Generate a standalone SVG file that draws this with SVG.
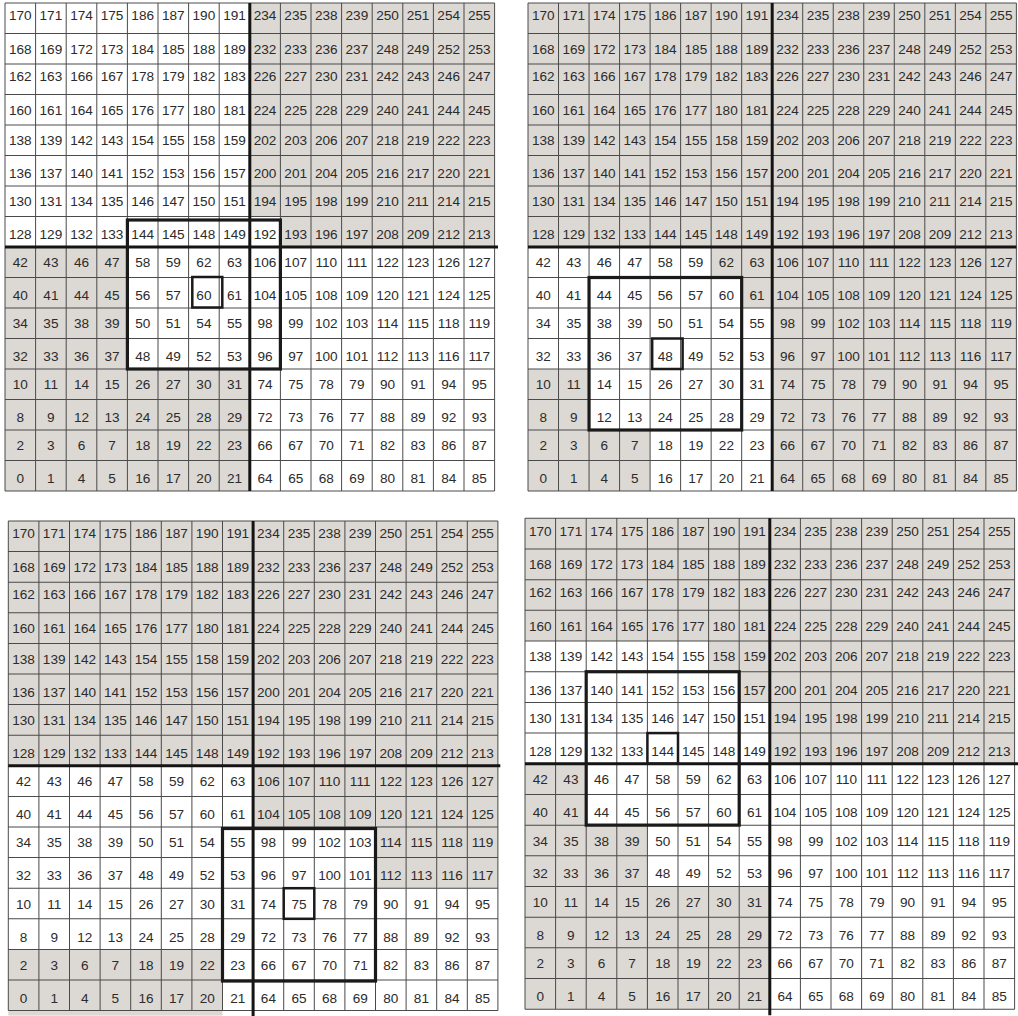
<svg xmlns="http://www.w3.org/2000/svg" xmlns:xlink="http://www.w3.org/1999/xlink" width="1018" height="1016" viewBox="0 0 1018 1016">
<style>
text{font-family:"Liberation Sans",Arial,sans-serif;font-size:13.6px;fill:#2b2b2b;text-anchor:middle}
.g{fill:#dcd8d3}
.w{fill:#ffffff}
.grid{fill:none;stroke:#4a4a4a;stroke-width:1}
.thick{fill:none;stroke:#141414;stroke-width:3}
.box{fill:none;stroke:#1a1a1a;stroke-width:3.2}
.sbox{fill:none;stroke:#1a1a1a;stroke-width:2.5}
</style>
<defs>
<path id="gridpath" class="grid" d="M0 0V488M30.6 0V488M61.2 0V488M91.8 0V488M122.4 0V488M153 0V488M183.6 0V488M214.2 0V488M244.8 0V488M275.4 0V488M306 0V488M336.6 0V488M367.2 0V488M397.8 0V488M428.4 0V488M459 0V488M489.6 0V488M0 0H489.6M0 30.5H489.6M0 61H489.6M0 91.5H489.6M0 122H489.6M0 152.5H489.6M0 183H489.6M0 213.5H489.6M0 244H489.6M0 274.5H489.6M0 305H489.6M0 335.5H489.6M0 366H489.6M0 396.5H489.6M0 427H489.6M0 457.5H489.6M0 488H489.6"/>
</defs>
<rect x="0" y="0" width="1018" height="1016" fill="#ffffff"/>

<g id="panel1" transform="translate(5,3)">
<g id="p1-shade">
<rect class="g" x="244.8" y="0" width="244.8" height="213.5"/>
<rect class="g" x="275.4" y="213.5" width="214.2" height="30.5"/>
<rect class="g" x="0" y="244" width="122.4" height="244"/>
<rect class="g" x="122.4" y="366" width="122.4" height="122"/>
</g>
<use xlink:href="#gridpath" href="#gridpath"/>
<g id="p1-nums">
<g transform="translate(0,17.3)"><text x="15.3">170</text><text x="45.9">171</text><text x="76.5">174</text><text x="107.1">175</text><text x="137.7">186</text><text x="168.3">187</text><text x="198.9">190</text><text x="229.5">191</text><text x="260.1">234</text><text x="290.7">235</text><text x="321.3">238</text><text x="351.9">239</text><text x="382.5">250</text><text x="413.1">251</text><text x="443.7">254</text><text x="474.3">255</text></g>
<g transform="translate(0,50.8)"><text x="15.3">168</text><text x="45.9">169</text><text x="76.5">172</text><text x="107.1">173</text><text x="137.7">184</text><text x="168.3">185</text><text x="198.9">188</text><text x="229.5">189</text><text x="260.1">232</text><text x="290.7">233</text><text x="321.3">236</text><text x="351.9">237</text><text x="382.5">248</text><text x="413.1">249</text><text x="443.7">252</text><text x="474.3">253</text></g>
<g transform="translate(0,77.8)"><text x="15.3">162</text><text x="45.9">163</text><text x="76.5">166</text><text x="107.1">167</text><text x="137.7">178</text><text x="168.3">179</text><text x="198.9">182</text><text x="229.5">183</text><text x="260.1">226</text><text x="290.7">227</text><text x="321.3">230</text><text x="351.9">231</text><text x="382.5">242</text><text x="413.1">243</text><text x="443.7">246</text><text x="474.3">247</text></g>
<g transform="translate(0,111.8)"><text x="15.3">160</text><text x="45.9">161</text><text x="76.5">164</text><text x="107.1">165</text><text x="137.7">176</text><text x="168.3">177</text><text x="198.9">180</text><text x="229.5">181</text><text x="260.1">224</text><text x="290.7">225</text><text x="321.3">228</text><text x="351.9">229</text><text x="382.5">240</text><text x="413.1">241</text><text x="443.7">244</text><text x="474.3">245</text></g>
<g transform="translate(0,142.3)"><text x="15.3">138</text><text x="45.9">139</text><text x="76.5">142</text><text x="107.1">143</text><text x="137.7">154</text><text x="168.3">155</text><text x="198.9">158</text><text x="229.5">159</text><text x="260.1">202</text><text x="290.7">203</text><text x="321.3">206</text><text x="351.9">207</text><text x="382.5">218</text><text x="413.1">219</text><text x="443.7">222</text><text x="474.3">223</text></g>
<g transform="translate(0,175.3)"><text x="15.3">136</text><text x="45.9">137</text><text x="76.5">140</text><text x="107.1">141</text><text x="137.7">152</text><text x="168.3">153</text><text x="198.9">156</text><text x="229.5">157</text><text x="260.1">200</text><text x="290.7">201</text><text x="321.3">204</text><text x="351.9">205</text><text x="382.5">216</text><text x="413.1">217</text><text x="443.7">220</text><text x="474.3">221</text></g>
<g transform="translate(0,203.3)"><text x="15.3">130</text><text x="45.9">131</text><text x="76.5">134</text><text x="107.1">135</text><text x="137.7">146</text><text x="168.3">147</text><text x="198.9">150</text><text x="229.5">151</text><text x="260.1">194</text><text x="290.7">195</text><text x="321.3">198</text><text x="351.9">199</text><text x="382.5">210</text><text x="413.1">211</text><text x="443.7">214</text><text x="474.3">215</text></g>
<g transform="translate(0,236.3)"><text x="15.3">128</text><text x="45.9">129</text><text x="76.5">132</text><text x="107.1">133</text><text x="137.7">144</text><text x="168.3">145</text><text x="198.9">148</text><text x="229.5">149</text><text x="260.1">192</text><text x="290.7">193</text><text x="321.3">196</text><text x="351.9">197</text><text x="382.5">208</text><text x="413.1">209</text><text x="443.7">212</text><text x="474.3">213</text></g>
<g transform="translate(0,264.3)"><text x="15.3">42</text><text x="45.9">43</text><text x="76.5">46</text><text x="107.1">47</text><text x="137.7">58</text><text x="168.3">59</text><text x="198.9">62</text><text x="229.5">63</text><text x="260.1">106</text><text x="290.7">107</text><text x="321.3">110</text><text x="351.9">111</text><text x="382.5">122</text><text x="413.1">123</text><text x="443.7">126</text><text x="474.3">127</text></g>
<g transform="translate(0,296.8)"><text x="15.3">40</text><text x="45.9">41</text><text x="76.5">44</text><text x="107.1">45</text><text x="137.7">56</text><text x="168.3">57</text><text x="198.9">60</text><text x="229.5">61</text><text x="260.1">104</text><text x="290.7">105</text><text x="321.3">108</text><text x="351.9">109</text><text x="382.5">120</text><text x="413.1">121</text><text x="443.7">124</text><text x="474.3">125</text></g>
<g transform="translate(0,325.3)"><text x="15.3">34</text><text x="45.9">35</text><text x="76.5">38</text><text x="107.1">39</text><text x="137.7">50</text><text x="168.3">51</text><text x="198.9">54</text><text x="229.5">55</text><text x="260.1">98</text><text x="290.7">99</text><text x="321.3">102</text><text x="351.9">103</text><text x="382.5">114</text><text x="413.1">115</text><text x="443.7">118</text><text x="474.3">119</text></g>
<g transform="translate(0,357.8)"><text x="15.3">32</text><text x="45.9">33</text><text x="76.5">36</text><text x="107.1">37</text><text x="137.7">48</text><text x="168.3">49</text><text x="198.9">52</text><text x="229.5">53</text><text x="260.1">96</text><text x="290.7">97</text><text x="321.3">100</text><text x="351.9">101</text><text x="382.5">112</text><text x="413.1">113</text><text x="443.7">116</text><text x="474.3">117</text></g>
<g transform="translate(0,386.3)"><text x="15.3">10</text><text x="45.9">11</text><text x="76.5">14</text><text x="107.1">15</text><text x="137.7">26</text><text x="168.3">27</text><text x="198.9">30</text><text x="229.5">31</text><text x="260.1">74</text><text x="290.7">75</text><text x="321.3">78</text><text x="351.9">79</text><text x="382.5">90</text><text x="413.1">91</text><text x="443.7">94</text><text x="474.3">95</text></g>
<g transform="translate(0,419.3)"><text x="15.3">8</text><text x="45.9">9</text><text x="76.5">12</text><text x="107.1">13</text><text x="137.7">24</text><text x="168.3">25</text><text x="198.9">28</text><text x="229.5">29</text><text x="260.1">72</text><text x="290.7">73</text><text x="321.3">76</text><text x="351.9">77</text><text x="382.5">88</text><text x="413.1">89</text><text x="443.7">92</text><text x="474.3">93</text></g>
<g transform="translate(0,447.3)"><text x="15.3">2</text><text x="45.9">3</text><text x="76.5">6</text><text x="107.1">7</text><text x="137.7">18</text><text x="168.3">19</text><text x="198.9">22</text><text x="229.5">23</text><text x="260.1">66</text><text x="290.7">67</text><text x="321.3">70</text><text x="351.9">71</text><text x="382.5">82</text><text x="413.1">83</text><text x="443.7">86</text><text x="474.3">87</text></g>
<g transform="translate(0,480)"><text x="15.3">0</text><text x="45.9">1</text><text x="76.5">4</text><text x="107.1">5</text><text x="137.7">16</text><text x="168.3">17</text><text x="198.9">20</text><text x="229.5">21</text><text x="260.1">64</text><text x="290.7">65</text><text x="321.3">68</text><text x="351.9">69</text><text x="382.5">80</text><text x="413.1">81</text><text x="443.7">84</text><text x="474.3">85</text></g>
</g>
<path class="thick" d="M244.8 0V488M0 244H493"/>
<rect class="box" x="122.4" y="217" width="153" height="149"/>
<rect class="sbox" x="187.3" y="274" width="30" height="30.5"/>
</g>

<g id="panel2" transform="translate(528,3) scale(0.9975,1)">
<g id="p2-shade">
<rect class="g" x="0" y="0" width="489.6" height="488"/>
<rect class="w" x="0" y="244" width="183.6" height="30.5"/>
<rect class="w" x="0" y="274.5" width="214.2" height="30.5"/>
<rect class="w" x="0" y="305" width="244.8" height="61"/>
<rect class="w" x="61.2" y="366" width="183.6" height="61"/>
<rect class="w" x="122.4" y="427" width="122.4" height="61"/>
</g>
<use xlink:href="#gridpath" href="#gridpath"/>
<g id="p2-nums">
<g transform="translate(0,17.3)"><text x="15.3">170</text><text x="45.9">171</text><text x="76.5">174</text><text x="107.1">175</text><text x="137.7">186</text><text x="168.3">187</text><text x="198.9">190</text><text x="229.5">191</text><text x="260.1">234</text><text x="290.7">235</text><text x="321.3">238</text><text x="351.9">239</text><text x="382.5">250</text><text x="413.1">251</text><text x="443.7">254</text><text x="474.3">255</text></g>
<g transform="translate(0,50.8)"><text x="15.3">168</text><text x="45.9">169</text><text x="76.5">172</text><text x="107.1">173</text><text x="137.7">184</text><text x="168.3">185</text><text x="198.9">188</text><text x="229.5">189</text><text x="260.1">232</text><text x="290.7">233</text><text x="321.3">236</text><text x="351.9">237</text><text x="382.5">248</text><text x="413.1">249</text><text x="443.7">252</text><text x="474.3">253</text></g>
<g transform="translate(0,77.8)"><text x="15.3">162</text><text x="45.9">163</text><text x="76.5">166</text><text x="107.1">167</text><text x="137.7">178</text><text x="168.3">179</text><text x="198.9">182</text><text x="229.5">183</text><text x="260.1">226</text><text x="290.7">227</text><text x="321.3">230</text><text x="351.9">231</text><text x="382.5">242</text><text x="413.1">243</text><text x="443.7">246</text><text x="474.3">247</text></g>
<g transform="translate(0,111.8)"><text x="15.3">160</text><text x="45.9">161</text><text x="76.5">164</text><text x="107.1">165</text><text x="137.7">176</text><text x="168.3">177</text><text x="198.9">180</text><text x="229.5">181</text><text x="260.1">224</text><text x="290.7">225</text><text x="321.3">228</text><text x="351.9">229</text><text x="382.5">240</text><text x="413.1">241</text><text x="443.7">244</text><text x="474.3">245</text></g>
<g transform="translate(0,142.3)"><text x="15.3">138</text><text x="45.9">139</text><text x="76.5">142</text><text x="107.1">143</text><text x="137.7">154</text><text x="168.3">155</text><text x="198.9">158</text><text x="229.5">159</text><text x="260.1">202</text><text x="290.7">203</text><text x="321.3">206</text><text x="351.9">207</text><text x="382.5">218</text><text x="413.1">219</text><text x="443.7">222</text><text x="474.3">223</text></g>
<g transform="translate(0,175.3)"><text x="15.3">136</text><text x="45.9">137</text><text x="76.5">140</text><text x="107.1">141</text><text x="137.7">152</text><text x="168.3">153</text><text x="198.9">156</text><text x="229.5">157</text><text x="260.1">200</text><text x="290.7">201</text><text x="321.3">204</text><text x="351.9">205</text><text x="382.5">216</text><text x="413.1">217</text><text x="443.7">220</text><text x="474.3">221</text></g>
<g transform="translate(0,203.3)"><text x="15.3">130</text><text x="45.9">131</text><text x="76.5">134</text><text x="107.1">135</text><text x="137.7">146</text><text x="168.3">147</text><text x="198.9">150</text><text x="229.5">151</text><text x="260.1">194</text><text x="290.7">195</text><text x="321.3">198</text><text x="351.9">199</text><text x="382.5">210</text><text x="413.1">211</text><text x="443.7">214</text><text x="474.3">215</text></g>
<g transform="translate(0,236.3)"><text x="15.3">128</text><text x="45.9">129</text><text x="76.5">132</text><text x="107.1">133</text><text x="137.7">144</text><text x="168.3">145</text><text x="198.9">148</text><text x="229.5">149</text><text x="260.1">192</text><text x="290.7">193</text><text x="321.3">196</text><text x="351.9">197</text><text x="382.5">208</text><text x="413.1">209</text><text x="443.7">212</text><text x="474.3">213</text></g>
<g transform="translate(0,264.3)"><text x="15.3">42</text><text x="45.9">43</text><text x="76.5">46</text><text x="107.1">47</text><text x="137.7">58</text><text x="168.3">59</text><text x="198.9">62</text><text x="229.5">63</text><text x="260.1">106</text><text x="290.7">107</text><text x="321.3">110</text><text x="351.9">111</text><text x="382.5">122</text><text x="413.1">123</text><text x="443.7">126</text><text x="474.3">127</text></g>
<g transform="translate(0,296.8)"><text x="15.3">40</text><text x="45.9">41</text><text x="76.5">44</text><text x="107.1">45</text><text x="137.7">56</text><text x="168.3">57</text><text x="198.9">60</text><text x="229.5">61</text><text x="260.1">104</text><text x="290.7">105</text><text x="321.3">108</text><text x="351.9">109</text><text x="382.5">120</text><text x="413.1">121</text><text x="443.7">124</text><text x="474.3">125</text></g>
<g transform="translate(0,325.3)"><text x="15.3">34</text><text x="45.9">35</text><text x="76.5">38</text><text x="107.1">39</text><text x="137.7">50</text><text x="168.3">51</text><text x="198.9">54</text><text x="229.5">55</text><text x="260.1">98</text><text x="290.7">99</text><text x="321.3">102</text><text x="351.9">103</text><text x="382.5">114</text><text x="413.1">115</text><text x="443.7">118</text><text x="474.3">119</text></g>
<g transform="translate(0,357.8)"><text x="15.3">32</text><text x="45.9">33</text><text x="76.5">36</text><text x="107.1">37</text><text x="137.7">48</text><text x="168.3">49</text><text x="198.9">52</text><text x="229.5">53</text><text x="260.1">96</text><text x="290.7">97</text><text x="321.3">100</text><text x="351.9">101</text><text x="382.5">112</text><text x="413.1">113</text><text x="443.7">116</text><text x="474.3">117</text></g>
<g transform="translate(0,386.3)"><text x="15.3">10</text><text x="45.9">11</text><text x="76.5">14</text><text x="107.1">15</text><text x="137.7">26</text><text x="168.3">27</text><text x="198.9">30</text><text x="229.5">31</text><text x="260.1">74</text><text x="290.7">75</text><text x="321.3">78</text><text x="351.9">79</text><text x="382.5">90</text><text x="413.1">91</text><text x="443.7">94</text><text x="474.3">95</text></g>
<g transform="translate(0,419.3)"><text x="15.3">8</text><text x="45.9">9</text><text x="76.5">12</text><text x="107.1">13</text><text x="137.7">24</text><text x="168.3">25</text><text x="198.9">28</text><text x="229.5">29</text><text x="260.1">72</text><text x="290.7">73</text><text x="321.3">76</text><text x="351.9">77</text><text x="382.5">88</text><text x="413.1">89</text><text x="443.7">92</text><text x="474.3">93</text></g>
<g transform="translate(0,447.3)"><text x="15.3">2</text><text x="45.9">3</text><text x="76.5">6</text><text x="107.1">7</text><text x="137.7">18</text><text x="168.3">19</text><text x="198.9">22</text><text x="229.5">23</text><text x="260.1">66</text><text x="290.7">67</text><text x="321.3">70</text><text x="351.9">71</text><text x="382.5">82</text><text x="413.1">83</text><text x="443.7">86</text><text x="474.3">87</text></g>
<g transform="translate(0,480)"><text x="15.3">0</text><text x="45.9">1</text><text x="76.5">4</text><text x="107.1">5</text><text x="137.7">16</text><text x="168.3">17</text><text x="198.9">20</text><text x="229.5">21</text><text x="260.1">64</text><text x="290.7">65</text><text x="321.3">68</text><text x="351.9">69</text><text x="382.5">80</text><text x="413.1">81</text><text x="443.7">84</text><text x="474.3">85</text></g>
</g>
<path class="thick" d="M244.8 0V488M0 244H489.6"/>
<rect class="box" x="61.2" y="274.5" width="153" height="152.5"/>
<rect class="sbox" x="124.5" y="335.5" width="30.5" height="30.5"/>
</g>

<g id="panel3" transform="translate(8.3,521) scale(1,1.0033)">
<g id="p3-shade">
<rect class="g" x="0" y="0" width="489.6" height="244"/>
<rect class="g" x="244.8" y="244" width="244.8" height="61"/>
<rect class="g" x="367.2" y="305" width="122.4" height="61"/>
<rect class="g" x="0" y="427" width="214.2" height="66"/>
</g>
<use xlink:href="#gridpath" href="#gridpath"/>
<g id="p3-nums">
<g transform="translate(0,17.3)"><text x="15.3">170</text><text x="45.9">171</text><text x="76.5">174</text><text x="107.1">175</text><text x="137.7">186</text><text x="168.3">187</text><text x="198.9">190</text><text x="229.5">191</text><text x="260.1">234</text><text x="290.7">235</text><text x="321.3">238</text><text x="351.9">239</text><text x="382.5">250</text><text x="413.1">251</text><text x="443.7">254</text><text x="474.3">255</text></g>
<g transform="translate(0,50.8)"><text x="15.3">168</text><text x="45.9">169</text><text x="76.5">172</text><text x="107.1">173</text><text x="137.7">184</text><text x="168.3">185</text><text x="198.9">188</text><text x="229.5">189</text><text x="260.1">232</text><text x="290.7">233</text><text x="321.3">236</text><text x="351.9">237</text><text x="382.5">248</text><text x="413.1">249</text><text x="443.7">252</text><text x="474.3">253</text></g>
<g transform="translate(0,77.8)"><text x="15.3">162</text><text x="45.9">163</text><text x="76.5">166</text><text x="107.1">167</text><text x="137.7">178</text><text x="168.3">179</text><text x="198.9">182</text><text x="229.5">183</text><text x="260.1">226</text><text x="290.7">227</text><text x="321.3">230</text><text x="351.9">231</text><text x="382.5">242</text><text x="413.1">243</text><text x="443.7">246</text><text x="474.3">247</text></g>
<g transform="translate(0,111.8)"><text x="15.3">160</text><text x="45.9">161</text><text x="76.5">164</text><text x="107.1">165</text><text x="137.7">176</text><text x="168.3">177</text><text x="198.9">180</text><text x="229.5">181</text><text x="260.1">224</text><text x="290.7">225</text><text x="321.3">228</text><text x="351.9">229</text><text x="382.5">240</text><text x="413.1">241</text><text x="443.7">244</text><text x="474.3">245</text></g>
<g transform="translate(0,142.3)"><text x="15.3">138</text><text x="45.9">139</text><text x="76.5">142</text><text x="107.1">143</text><text x="137.7">154</text><text x="168.3">155</text><text x="198.9">158</text><text x="229.5">159</text><text x="260.1">202</text><text x="290.7">203</text><text x="321.3">206</text><text x="351.9">207</text><text x="382.5">218</text><text x="413.1">219</text><text x="443.7">222</text><text x="474.3">223</text></g>
<g transform="translate(0,175.3)"><text x="15.3">136</text><text x="45.9">137</text><text x="76.5">140</text><text x="107.1">141</text><text x="137.7">152</text><text x="168.3">153</text><text x="198.9">156</text><text x="229.5">157</text><text x="260.1">200</text><text x="290.7">201</text><text x="321.3">204</text><text x="351.9">205</text><text x="382.5">216</text><text x="413.1">217</text><text x="443.7">220</text><text x="474.3">221</text></g>
<g transform="translate(0,203.3)"><text x="15.3">130</text><text x="45.9">131</text><text x="76.5">134</text><text x="107.1">135</text><text x="137.7">146</text><text x="168.3">147</text><text x="198.9">150</text><text x="229.5">151</text><text x="260.1">194</text><text x="290.7">195</text><text x="321.3">198</text><text x="351.9">199</text><text x="382.5">210</text><text x="413.1">211</text><text x="443.7">214</text><text x="474.3">215</text></g>
<g transform="translate(0,236.3)"><text x="15.3">128</text><text x="45.9">129</text><text x="76.5">132</text><text x="107.1">133</text><text x="137.7">144</text><text x="168.3">145</text><text x="198.9">148</text><text x="229.5">149</text><text x="260.1">192</text><text x="290.7">193</text><text x="321.3">196</text><text x="351.9">197</text><text x="382.5">208</text><text x="413.1">209</text><text x="443.7">212</text><text x="474.3">213</text></g>
<g transform="translate(0,264.3)"><text x="15.3">42</text><text x="45.9">43</text><text x="76.5">46</text><text x="107.1">47</text><text x="137.7">58</text><text x="168.3">59</text><text x="198.9">62</text><text x="229.5">63</text><text x="260.1">106</text><text x="290.7">107</text><text x="321.3">110</text><text x="351.9">111</text><text x="382.5">122</text><text x="413.1">123</text><text x="443.7">126</text><text x="474.3">127</text></g>
<g transform="translate(0,296.8)"><text x="15.3">40</text><text x="45.9">41</text><text x="76.5">44</text><text x="107.1">45</text><text x="137.7">56</text><text x="168.3">57</text><text x="198.9">60</text><text x="229.5">61</text><text x="260.1">104</text><text x="290.7">105</text><text x="321.3">108</text><text x="351.9">109</text><text x="382.5">120</text><text x="413.1">121</text><text x="443.7">124</text><text x="474.3">125</text></g>
<g transform="translate(0,325.3)"><text x="15.3">34</text><text x="45.9">35</text><text x="76.5">38</text><text x="107.1">39</text><text x="137.7">50</text><text x="168.3">51</text><text x="198.9">54</text><text x="229.5">55</text><text x="260.1">98</text><text x="290.7">99</text><text x="321.3">102</text><text x="351.9">103</text><text x="382.5">114</text><text x="413.1">115</text><text x="443.7">118</text><text x="474.3">119</text></g>
<g transform="translate(0,357.8)"><text x="15.3">32</text><text x="45.9">33</text><text x="76.5">36</text><text x="107.1">37</text><text x="137.7">48</text><text x="168.3">49</text><text x="198.9">52</text><text x="229.5">53</text><text x="260.1">96</text><text x="290.7">97</text><text x="321.3">100</text><text x="351.9">101</text><text x="382.5">112</text><text x="413.1">113</text><text x="443.7">116</text><text x="474.3">117</text></g>
<g transform="translate(0,386.3)"><text x="15.3">10</text><text x="45.9">11</text><text x="76.5">14</text><text x="107.1">15</text><text x="137.7">26</text><text x="168.3">27</text><text x="198.9">30</text><text x="229.5">31</text><text x="260.1">74</text><text x="290.7">75</text><text x="321.3">78</text><text x="351.9">79</text><text x="382.5">90</text><text x="413.1">91</text><text x="443.7">94</text><text x="474.3">95</text></g>
<g transform="translate(0,419.3)"><text x="15.3">8</text><text x="45.9">9</text><text x="76.5">12</text><text x="107.1">13</text><text x="137.7">24</text><text x="168.3">25</text><text x="198.9">28</text><text x="229.5">29</text><text x="260.1">72</text><text x="290.7">73</text><text x="321.3">76</text><text x="351.9">77</text><text x="382.5">88</text><text x="413.1">89</text><text x="443.7">92</text><text x="474.3">93</text></g>
<g transform="translate(0,447.3)"><text x="15.3">2</text><text x="45.9">3</text><text x="76.5">6</text><text x="107.1">7</text><text x="137.7">18</text><text x="168.3">19</text><text x="198.9">22</text><text x="229.5">23</text><text x="260.1">66</text><text x="290.7">67</text><text x="321.3">70</text><text x="351.9">71</text><text x="382.5">82</text><text x="413.1">83</text><text x="443.7">86</text><text x="474.3">87</text></g>
<g transform="translate(0,480)"><text x="15.3">0</text><text x="45.9">1</text><text x="76.5">4</text><text x="107.1">5</text><text x="137.7">16</text><text x="168.3">17</text><text x="198.9">20</text><text x="229.5">21</text><text x="260.1">64</text><text x="290.7">65</text><text x="321.3">68</text><text x="351.9">69</text><text x="382.5">80</text><text x="413.1">81</text><text x="443.7">84</text><text x="474.3">85</text></g>
</g>
<path class="thick" d="M244.8 0V494M0 244H492"/>
<rect class="box" x="214.2" y="306.5" width="153" height="152"/>
<rect class="sbox" x="275.4" y="366" width="30.6" height="30.5"/>
</g>

<g id="panel4" transform="translate(525,518.3) scale(1,1.006)">
<g id="p4-shade">
<rect class="g" x="0" y="0" width="489.6" height="488"/>
<rect class="w" x="0" y="122" width="183.6" height="30.5"/>
<rect class="w" x="0" y="152.5" width="214.2" height="30.5"/>
<rect class="w" x="0" y="183" width="244.8" height="61"/>
<rect class="w" x="61.2" y="244" width="183.6" height="61"/>
<rect class="w" x="122.4" y="305" width="122.4" height="61"/>
<rect class="w" x="244.8" y="244" width="244.8" height="244"/>
</g>
<use xlink:href="#gridpath" href="#gridpath"/>
<g id="p4-nums">
<g transform="translate(0,17.3)"><text x="15.3">170</text><text x="45.9">171</text><text x="76.5">174</text><text x="107.1">175</text><text x="137.7">186</text><text x="168.3">187</text><text x="198.9">190</text><text x="229.5">191</text><text x="260.1">234</text><text x="290.7">235</text><text x="321.3">238</text><text x="351.9">239</text><text x="382.5">250</text><text x="413.1">251</text><text x="443.7">254</text><text x="474.3">255</text></g>
<g transform="translate(0,50.8)"><text x="15.3">168</text><text x="45.9">169</text><text x="76.5">172</text><text x="107.1">173</text><text x="137.7">184</text><text x="168.3">185</text><text x="198.9">188</text><text x="229.5">189</text><text x="260.1">232</text><text x="290.7">233</text><text x="321.3">236</text><text x="351.9">237</text><text x="382.5">248</text><text x="413.1">249</text><text x="443.7">252</text><text x="474.3">253</text></g>
<g transform="translate(0,77.8)"><text x="15.3">162</text><text x="45.9">163</text><text x="76.5">166</text><text x="107.1">167</text><text x="137.7">178</text><text x="168.3">179</text><text x="198.9">182</text><text x="229.5">183</text><text x="260.1">226</text><text x="290.7">227</text><text x="321.3">230</text><text x="351.9">231</text><text x="382.5">242</text><text x="413.1">243</text><text x="443.7">246</text><text x="474.3">247</text></g>
<g transform="translate(0,111.8)"><text x="15.3">160</text><text x="45.9">161</text><text x="76.5">164</text><text x="107.1">165</text><text x="137.7">176</text><text x="168.3">177</text><text x="198.9">180</text><text x="229.5">181</text><text x="260.1">224</text><text x="290.7">225</text><text x="321.3">228</text><text x="351.9">229</text><text x="382.5">240</text><text x="413.1">241</text><text x="443.7">244</text><text x="474.3">245</text></g>
<g transform="translate(0,142.3)"><text x="15.3">138</text><text x="45.9">139</text><text x="76.5">142</text><text x="107.1">143</text><text x="137.7">154</text><text x="168.3">155</text><text x="198.9">158</text><text x="229.5">159</text><text x="260.1">202</text><text x="290.7">203</text><text x="321.3">206</text><text x="351.9">207</text><text x="382.5">218</text><text x="413.1">219</text><text x="443.7">222</text><text x="474.3">223</text></g>
<g transform="translate(0,175.3)"><text x="15.3">136</text><text x="45.9">137</text><text x="76.5">140</text><text x="107.1">141</text><text x="137.7">152</text><text x="168.3">153</text><text x="198.9">156</text><text x="229.5">157</text><text x="260.1">200</text><text x="290.7">201</text><text x="321.3">204</text><text x="351.9">205</text><text x="382.5">216</text><text x="413.1">217</text><text x="443.7">220</text><text x="474.3">221</text></g>
<g transform="translate(0,203.3)"><text x="15.3">130</text><text x="45.9">131</text><text x="76.5">134</text><text x="107.1">135</text><text x="137.7">146</text><text x="168.3">147</text><text x="198.9">150</text><text x="229.5">151</text><text x="260.1">194</text><text x="290.7">195</text><text x="321.3">198</text><text x="351.9">199</text><text x="382.5">210</text><text x="413.1">211</text><text x="443.7">214</text><text x="474.3">215</text></g>
<g transform="translate(0,236.3)"><text x="15.3">128</text><text x="45.9">129</text><text x="76.5">132</text><text x="107.1">133</text><text x="137.7">144</text><text x="168.3">145</text><text x="198.9">148</text><text x="229.5">149</text><text x="260.1">192</text><text x="290.7">193</text><text x="321.3">196</text><text x="351.9">197</text><text x="382.5">208</text><text x="413.1">209</text><text x="443.7">212</text><text x="474.3">213</text></g>
<g transform="translate(0,264.3)"><text x="15.3">42</text><text x="45.9">43</text><text x="76.5">46</text><text x="107.1">47</text><text x="137.7">58</text><text x="168.3">59</text><text x="198.9">62</text><text x="229.5">63</text><text x="260.1">106</text><text x="290.7">107</text><text x="321.3">110</text><text x="351.9">111</text><text x="382.5">122</text><text x="413.1">123</text><text x="443.7">126</text><text x="474.3">127</text></g>
<g transform="translate(0,296.8)"><text x="15.3">40</text><text x="45.9">41</text><text x="76.5">44</text><text x="107.1">45</text><text x="137.7">56</text><text x="168.3">57</text><text x="198.9">60</text><text x="229.5">61</text><text x="260.1">104</text><text x="290.7">105</text><text x="321.3">108</text><text x="351.9">109</text><text x="382.5">120</text><text x="413.1">121</text><text x="443.7">124</text><text x="474.3">125</text></g>
<g transform="translate(0,325.3)"><text x="15.3">34</text><text x="45.9">35</text><text x="76.5">38</text><text x="107.1">39</text><text x="137.7">50</text><text x="168.3">51</text><text x="198.9">54</text><text x="229.5">55</text><text x="260.1">98</text><text x="290.7">99</text><text x="321.3">102</text><text x="351.9">103</text><text x="382.5">114</text><text x="413.1">115</text><text x="443.7">118</text><text x="474.3">119</text></g>
<g transform="translate(0,357.8)"><text x="15.3">32</text><text x="45.9">33</text><text x="76.5">36</text><text x="107.1">37</text><text x="137.7">48</text><text x="168.3">49</text><text x="198.9">52</text><text x="229.5">53</text><text x="260.1">96</text><text x="290.7">97</text><text x="321.3">100</text><text x="351.9">101</text><text x="382.5">112</text><text x="413.1">113</text><text x="443.7">116</text><text x="474.3">117</text></g>
<g transform="translate(0,386.3)"><text x="15.3">10</text><text x="45.9">11</text><text x="76.5">14</text><text x="107.1">15</text><text x="137.7">26</text><text x="168.3">27</text><text x="198.9">30</text><text x="229.5">31</text><text x="260.1">74</text><text x="290.7">75</text><text x="321.3">78</text><text x="351.9">79</text><text x="382.5">90</text><text x="413.1">91</text><text x="443.7">94</text><text x="474.3">95</text></g>
<g transform="translate(0,419.3)"><text x="15.3">8</text><text x="45.9">9</text><text x="76.5">12</text><text x="107.1">13</text><text x="137.7">24</text><text x="168.3">25</text><text x="198.9">28</text><text x="229.5">29</text><text x="260.1">72</text><text x="290.7">73</text><text x="321.3">76</text><text x="351.9">77</text><text x="382.5">88</text><text x="413.1">89</text><text x="443.7">92</text><text x="474.3">93</text></g>
<g transform="translate(0,447.3)"><text x="15.3">2</text><text x="45.9">3</text><text x="76.5">6</text><text x="107.1">7</text><text x="137.7">18</text><text x="168.3">19</text><text x="198.9">22</text><text x="229.5">23</text><text x="260.1">66</text><text x="290.7">67</text><text x="321.3">70</text><text x="351.9">71</text><text x="382.5">82</text><text x="413.1">83</text><text x="443.7">86</text><text x="474.3">87</text></g>
<g transform="translate(0,480)"><text x="15.3">0</text><text x="45.9">1</text><text x="76.5">4</text><text x="107.1">5</text><text x="137.7">16</text><text x="168.3">17</text><text x="198.9">20</text><text x="229.5">21</text><text x="260.1">64</text><text x="290.7">65</text><text x="321.3">68</text><text x="351.9">69</text><text x="382.5">80</text><text x="413.1">81</text><text x="443.7">84</text><text x="474.3">85</text></g>
</g>
<path class="thick" d="M244.8 0V494M0 244H493"/>
<rect class="box" x="61.2" y="152.5" width="153" height="152.5"/>
<rect class="sbox" x="122.4" y="213.5" width="30.6" height="30.5"/>
</g>
</svg>
